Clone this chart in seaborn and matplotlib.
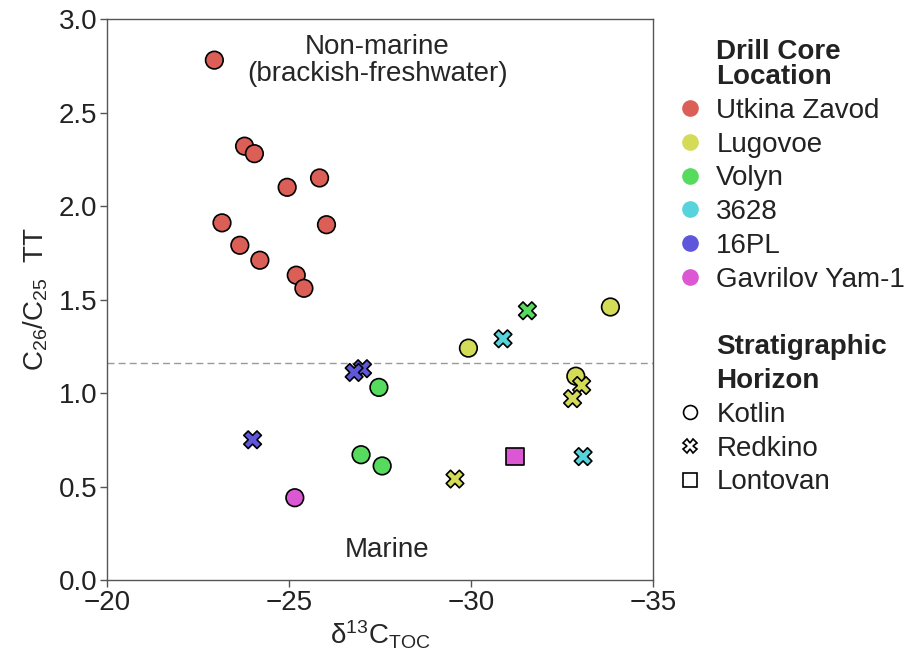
import matplotlib
matplotlib.use("Agg")
import matplotlib.pyplot as plt
from matplotlib.lines import Line2D
import seaborn as sns
import pandas as pd

# --- data -------------------------------------------------------------
locations = ["Utkina Zavod", "Lugovoe", "Volyn", "3628", "16PL", "Gavrilov Yam-1"]
horizons = ["Kotlin", "Redkino", "Lontovan"]

utkina_d13c = [-22.95, -23.78, -24.05, -24.95, -25.84, -23.16, -26.03, -23.65, -24.20, -25.20, -25.41]
utkina_tt = [2.78, 2.32, 2.28, 2.10, 2.15, 1.91, 1.90, 1.79, 1.71, 1.63, 1.56]
utkina_hz = ["Kotlin"] * 11

lugovoe_d13c = [-29.93, -33.83, -32.88, -33.04, -32.79, -29.56]
lugovoe_tt = [1.24, 1.46, 1.09, 1.04, 0.97, 0.54]
lugovoe_hz = ["Kotlin", "Kotlin", "Kotlin", "Redkino", "Redkino", "Redkino"]

volyn_d13c = [-27.47, -26.98, -27.56, -31.55]
volyn_tt = [1.03, 0.67, 0.61, 1.44]
volyn_hz = ["Kotlin", "Kotlin", "Kotlin", "Redkino"]

core3628_d13c = [-30.88, -33.08]
core3628_tt = [1.29, 0.66]
core3628_hz = ["Redkino", "Redkino"]

pl16_d13c = [-27.02, -26.79, -24.00]
pl16_tt = [1.13, 1.11, 0.75]
pl16_hz = ["Redkino", "Redkino", "Redkino"]

gavrilov_d13c = [-25.16, -31.21]
gavrilov_tt = [0.44, 0.66]
gavrilov_hz = ["Kotlin", "Lontovan"]

threshold = 1.16

frames = []
for loc, xs, ys, hz in [
    ("Utkina Zavod", utkina_d13c, utkina_tt, utkina_hz),
    ("Lugovoe", lugovoe_d13c, lugovoe_tt, lugovoe_hz),
    ("Volyn", volyn_d13c, volyn_tt, volyn_hz),
    ("3628", core3628_d13c, core3628_tt, core3628_hz),
    ("16PL", pl16_d13c, pl16_tt, pl16_hz),
    ("Gavrilov Yam-1", gavrilov_d13c, gavrilov_tt, gavrilov_hz),
]:
    frames.append(pd.DataFrame({"d13c": xs, "tt": ys, "location": loc, "horizon": hz}))
df = pd.concat(frames, ignore_index=True)

# --- style ------------------------------------------------------------
sns.set_style("ticks")
plt.rcParams["font.family"] = ["Liberation Sans", "DejaVu Sans"]
plt.rcParams["mathtext.default"] = "regular"
plt.rcParams["axes.edgecolor"] = "#555555"
plt.rcParams["xtick.color"] = "#555555"
plt.rcParams["ytick.color"] = "#555555"
plt.rcParams["xtick.labelcolor"] = "#222222"
plt.rcParams["ytick.labelcolor"] = "#222222"

palette = dict(zip(locations, sns.color_palette("hls", 6)))
markers = {"Kotlin": "o", "Redkino": "X", "Lontovan": "s"}

fig = plt.figure(figsize=(9.12, 6.6), dpi=100)
ax = fig.add_axes([0.1173, 0.1212, 0.5987, 0.850])

sns.scatterplot(
    data=df, x="d13c", y="tt", hue="location", style="horizon",
    hue_order=locations, style_order=horizons,
    palette=palette, markers=markers, s=160,
    edgecolor="black", linewidth=1.2, legend=False, ax=ax, zorder=3,
)

ax.axhline(threshold, color="#999999", lw=1.0, ls=(0, (5, 3)), zorder=1)

ax.set_xlim(-20, -35)
ax.set_ylim(0, 3)
ax.set_xticks([-20, -25, -30, -35])
ax.set_yticks([0, 0.5, 1.0, 1.5, 2.0, 2.5, 3.0])
ax.set_yticklabels(["0.0", "0.5", "1.0", "1.5", "2.0", "2.5", "3.0"])
ax.tick_params(labelsize=20, length=5, width=1.0, pad=2)
for sp in ax.spines.values():
    sp.set_linewidth(1.0)
    sp.set_visible(True)

ax.set_xlabel(r"δ$^{13}$C$_{TOC}$", fontsize=20, labelpad=2)
ax.set_ylabel(r"C$_{26}$/C$_{25}$  TT", fontsize=20, labelpad=6)

ax.text(-27.42, 2.92, "Non-marine\n(brackish-freshwater)", ha="center", va="top",
        fontsize=20, linespacing=1.05)
ax.text(-27.7, 0.16, "Marine", ha="center", va="center", fontsize=20)

# --- legend -----------------------------------------------------------
blank = Line2D([], [], linestyle="none", marker=None)
handles = [blank]
labels = ["Drill Core\nLocation"]
for loc in locations:
    handles.append(Line2D([], [], linestyle="none", marker="o", markersize=12,
                          markerfacecolor=palette[loc], markeredgewidth=0))
    labels.append(loc)
handles += [blank, blank, blank]
labels += [" ", "Stratigraphic", "Horizon"]
for hz in horizons:
    handles.append(Line2D([], [], linestyle="none", marker=markers[hz], markersize=10,
                          markerfacecolor="white", markeredgecolor="black",
                          markeredgewidth=1.2))
    labels.append(hz)

leg = fig.legend(handles, labels, loc="upper left", bbox_to_anchor=(676 / 912, 1 - 39 / 660),
                 frameon=False, fontsize=20, handlelength=1.0, handletextpad=0.45,
                 labelspacing=0.28, borderpad=0, borderaxespad=0)
for t in leg.get_texts():
    t.set_color("#222222")
    if t.get_text() in ("Drill Core\nLocation", "Stratigraphic", "Horizon"):
        t.set_fontweight("bold")
        t.set_linespacing(0.95)

fig.savefig("out.png", dpi=100)
